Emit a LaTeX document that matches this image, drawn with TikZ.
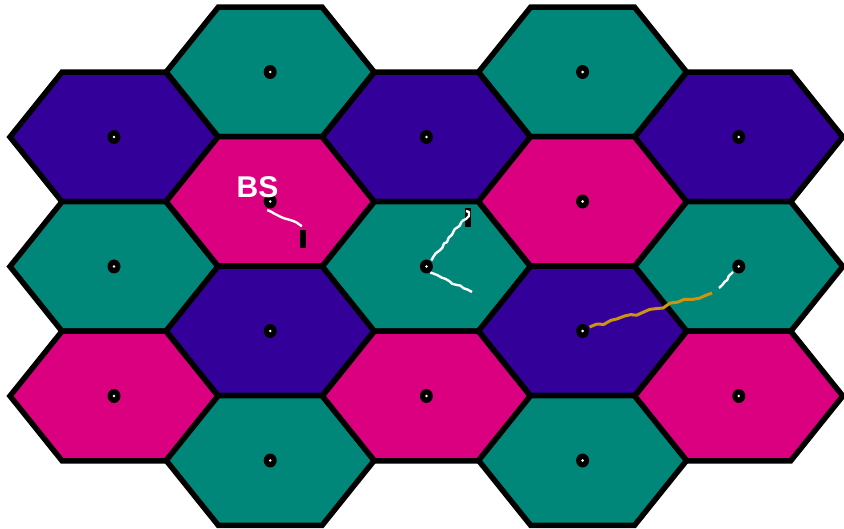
\documentclass[tikz,border=0pt]{standalone}
\usepackage{fontspec}
\setsansfont{Liberation Sans}
\usetikzlibrary{decorations.pathmorphing,shapes.geometric}
\definecolor{cellteal}{HTML}{00877A}
\definecolor{cellpurple}{HTML}{330099}
\definecolor{cellpink}{HTML}{DB007F}
\definecolor{pathgold}{HTML}{CC9410}

\begin{document}
\begin{tikzpicture}[x=1pt,y=-1pt,line width=5.5pt,
  hexcell/.style={draw=black,line join=miter},
  bsdot/.style={ellipse,fill=black,inner sep=0pt,minimum width=13pt,minimum height=14pt},
  trace/.style={line width=2.4pt,line join=round,decorate,
    decoration={random steps,segment length=4pt,amplitude=1.2pt}},
  handset/.style={fill=black}]
  \useasboundingbox (0,0) rectangle (844,529);
  \pgfmathsetseed{11}
  % cells: centre x / centre y / colour / name
  \foreach \cx/\cy/\col/\nm in {
      114/137/cellpurple/c0a, 114/266.5/cellteal/c0b, 114/396/cellpink/c0c,
      270.2/72/cellteal/c1a, 270.2/201.5/cellpink/c1b, 270.2/331/cellpurple/c1c, 270.2/460.5/cellteal/c1d,
      426.4/137/cellpurple/c2a, 426.4/266.5/cellteal/c2b, 426.4/396/cellpink/c2c,
      582.6/72/cellteal/c3a, 582.6/201.5/cellpink/c3b, 582.6/331/cellpurple/c3c, 582.6/460.5/cellteal/c3d,
      738.8/137/cellpurple/c4a, 738.8/266.5/cellteal/c4b, 738.8/396/cellpink/c4c}{
    \draw[hexcell,fill=\col] (\cx,\cy) ++(-104,0) -- ++(52,-64.75) -- ++(104,0)
      -- ++(52,64.75) -- ++(-52,64.75) -- ++(-104,0) -- cycle;
    \node[bsdot] (\nm) at (\cx,\cy) {};
    \fill[white] (\nm) circle (1.4);
  }

  % mobiles
  \fill[handset] (300,230) rectangle (305.5,248);
  \fill[handset] (465,208) rectangle (471,227);
  \coordinate (u1) at (302,226);
  \coordinate (u2) at (462,221);
  \coordinate (u3) at (472,292);
  \coordinate (u4) at (712,293);
  \coordinate (u5) at (733,272);

  % links
  \draw[trace,white] ([shift={(-3,8.5)}]c1b.center) -- (u1);
  \draw[trace,white] ([shift={(5,-6)}]c2b.center) -- (u2);
  \draw[white,line width=2.4pt,line join=round] (u2) -- (466,219) -- (469,216) -- (469,212) -- (466,211);
  \draw[trace,white] ([shift={(4,6)}]c2b.center) -- (u3);
  \draw[trace,pathgold,line width=3pt,decoration={random steps,segment length=7pt,amplitude=1.8pt}]
    ([shift={(7,-4)}]c3c.center) -- (u4);
  \draw[trace,white] (719,288) -- (u5);
  \node[font=\sffamily\bfseries\fontsize{30}{30}\selectfont,text=white] (bs) at (257.5,187) {BS};
\end{tikzpicture}
\end{document}
